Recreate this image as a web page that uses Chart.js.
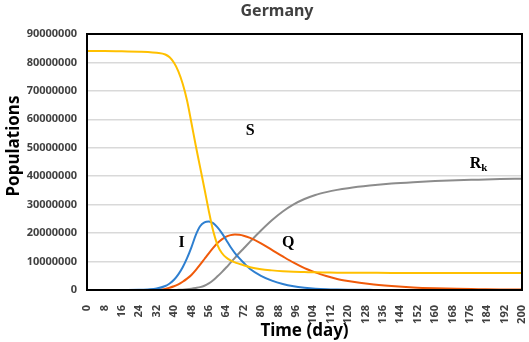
<!DOCTYPE html>
<html><head><meta charset="utf-8">
<script src="https://cdn.jsdelivr.net/npm/chart.js@4/dist/chart.umd.min.js"></script>
<style>html,body{margin:0;padding:0;background:#fff}canvas{display:block}</style>
</head><body>
<canvas id="c" width="529" height="342"></canvas>
<script>
const days = [0,8,16,24,28,32,36,38,40,42,44,46,48,50,52,54,56,58,60,62,64,66,68,70,72,75,80,85,90,95,100,105,110,115,120,130,140,150,160,170,180,190,200];
const S_M = [84.0,84.0,83.9,83.8,83.7,83.4,82.8,81.8,79.9,76.9,72.5,66.6,58.8,50.8,43.2,35.6,27.8,20.8,15.8,13.0,11.4,10.4,9.7,9.2,8.7,8.0,7.3,6.9,6.6,6.4,6.3,6.2,6.15,6.1,6.1,6.05,6.0,6.0,6.0,6.0,6.0,6.0,6.0];
const I_M = [0,0,0,0.05,0.2,0.5,1.4,2.3,3.6,5.5,8.0,11.2,15,19.3,22.4,23.8,24.1,23.5,22,20,17.6,15.1,13.0,11.2,9.6,7.4,5.0,3.3,2.1,1.3,0.8,0.45,0.25,0.15,0.1,0.05,0.02,0.02,0.02,0.02,0.02,0.02,0.02];
const Q_M = [0,0,0,0,0,0.1,0.4,0.8,1.3,2.0,2.9,4.0,5.3,7.0,8.9,10.9,12.9,14.8,16.5,17.8,18.8,19.3,19.5,19.4,19.1,18.3,16.4,14.1,11.8,9.6,7.7,6.2,4.9,3.9,3.2,2.1,1.4,0.9,0.6,0.4,0.3,0.2,0.15];
const R_M = [0,0,0,0,0,0,0,0,0,0.05,0.1,0.25,0.45,0.7,1.0,1.5,2.3,3.4,4.8,6.3,7.9,9.6,11.3,13.0,14.6,17.0,20.9,24.5,27.6,30.1,32.0,33.4,34.4,35.2,35.8,36.7,37.4,37.9,38.3,38.6,38.8,39.0,39.1];
const yTicks = [0,10000000,20000000,30000000,40000000,50000000,60000000,70000000,80000000,90000000];
const xTickStep = 8;
const chartTitle = 'Germany';
const yTitle = 'Populations';
const xTitle = 'Time (day)';
const curveLabels = [
  {text:'S', sub:'', day:75, val:56000000},
  {text:'I', sub:'', day:43.5, val:16500000},
  {text:'Q', sub:'', day:92.5, val:16500000},
  {text:'R', sub:'k', day:180, val:44500000}
];
const toPts = arr => days.map((d,i)=>({x:d, y:arr[i]*1e6}));
const mk = (label, arr, color) => ({label, data: toPts(arr), borderColor: color, borderWidth: 2, pointRadius: 0, fill: false, cubicInterpolationMode: 'monotone'});

const framePlugin = {
  id: 'frame',
  afterDraw(chart) {
    const {ctx, chartArea: a, scales} = chart;
    ctx.save();
    ctx.strokeStyle = '#000'; ctx.lineWidth = 2;
    ctx.strokeRect(a.left, a.top, a.right - a.left, a.bottom - a.top);
    ctx.fillStyle = '#000';
    ctx.textAlign = 'center'; ctx.textBaseline = 'middle';
    curveLabels.forEach(l => {
      const x = scales.x.getPixelForValue(l.day), y = scales.y.getPixelForValue(l.val);
      ctx.font = 'bold 16px "Liberation Serif"';
      const w = ctx.measureText(l.text).width;
      if (l.sub) {
        ctx.fillText(l.text, x - 3, y);
        ctx.font = 'bold 11px "Liberation Serif"';
        ctx.fillText(l.sub, x - 3 + w/2 + 3, y + 5);
      } else {
        ctx.fillText(l.text, x, y);
      }
    });
    ctx.fillStyle = '#404040';
    ctx.font = 'bold 16px "Noto Sans"';
    ctx.fillText(chartTitle, 277, 11);
    ctx.fillStyle = '#000';
    ctx.font = 'bold 17px "Noto Sans"';
    ctx.translate(14, 146);
    ctx.rotate(-Math.PI/2);
    ctx.fillText(yTitle, 0, 0);
    ctx.restore();
  }
};

new Chart(document.getElementById('c'), {
  type: 'line',
  data: { datasets: [
    mk('S', S_M, '#FFC000'),
    mk('I', I_M, '#2E7FD0'),
    mk('Q', Q_M, '#F05A0A'),
    mk('R', R_M, '#8C8C8C')
  ]},
  options: {
    responsive: false, animation: false,
    layout: { padding: { left: 0, right: 7, top: 34, bottom: 0 } },
    plugins: { legend: { display: false }, tooltip: { enabled: false }, title: { display: false } },
    scales: {
      x: {
        type: 'linear', min: 0, max: 200,
        afterFit: s => { s.height = 52; s.paddingLeft = 0; s.paddingRight = 0; },
        ticks: { stepSize: xTickStep, autoSkip: false, maxRotation: 90, minRotation: 90, color: '#404040', padding: 7, font: { family: '"Noto Sans"', size: 11, weight: 'bold' }, callback: v => String(v) },
        grid: { display: false },
        border: { color: '#000', width: 2 },
        title: { display: true, text: xTitle, color: '#000', font: { family: '"Noto Sans"', size: 17, weight: 'bold' }, padding: { top: 0, bottom: 1 } }
      },
      y: {
        min: 0, max: 90000000,
        afterFit: s => { s.width = 87; s.paddingTop = 0; s.paddingBottom = 0; },
        afterBuildTicks: s => { s.ticks = yTicks.map(v => ({value: v})); },
        ticks: { color: '#404040', padding: 10, font: { family: '"Noto Sans"', size: 11, weight: 'bold' }, callback: v => String(v) },
        grid: { color: '#D9D9D9', lineWidth: 1.5, drawTicks: false },
        border: { color: '#000', width: 2 },
        title: { display: false }
      }
    }
  },
  plugins: [framePlugin]
});
</script>
</body></html>
